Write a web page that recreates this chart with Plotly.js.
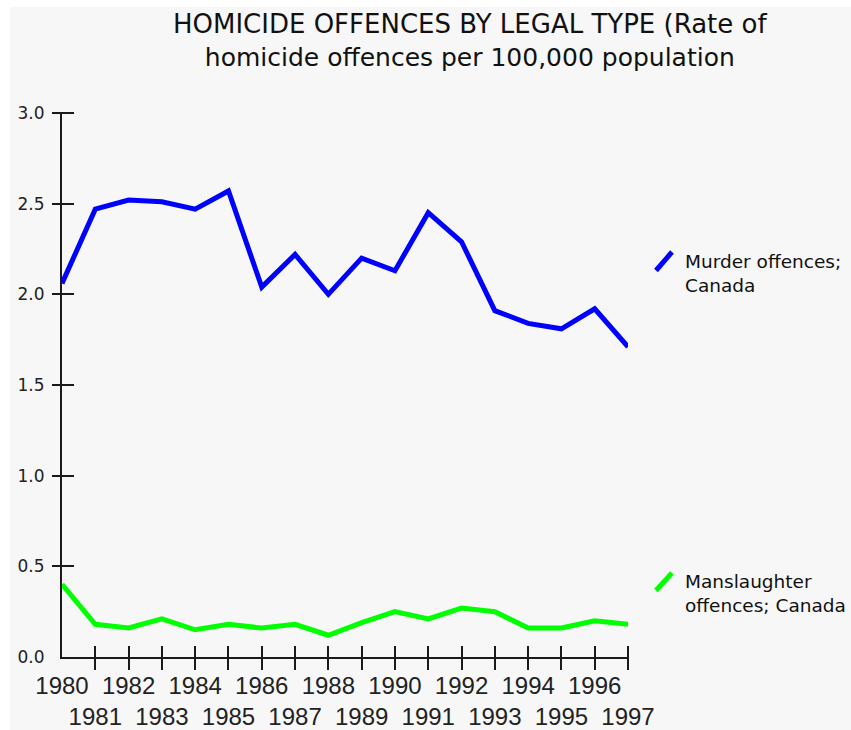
<!DOCTYPE html>
<html>
<head>
<meta charset="utf-8">
<script src="https://cdn.plot.ly/plotly-3.0.1.min.js"></script>
<style>
  html, body { margin: 0; padding: 0; background: #ffffff; }
  #chart { position: absolute; left: 10px; top: 7px; width: 841px; height: 723px; }
</style>
</head>
<body>
<div id="chart"></div>
<script>
// ---- data ----
const years = [1980,1981,1982,1983,1984,1985,1986,1987,1988,1989,1990,1991,1992,1993,1994,1995,1996,1997];
const murder = [2.06,2.47,2.52,2.51,2.47,2.57,2.04,2.22,2.00,2.20,2.13,2.45,2.29,1.91,1.84,1.81,1.92,1.71];
const manslaughter = [0.40,0.18,0.16,0.21,0.15,0.18,0.16,0.18,0.12,0.19,0.25,0.21,0.27,0.25,0.16,0.16,0.20,0.18];
const yTickVals = [0.0,0.5,1.0,1.5,2.0,2.5,3.0];
const yTickText = ['0.0','0.5','1.0','1.5','2.0','2.5','3.0'];
const xTickText = years.map((y, i) => (i % 2 === 0 ? String(y) : '<br>' + y));
const seriesNames = ['Murder offences;<br>Canada', 'Manslaughter<br>offences; Canada'];
const titleLines = ['HOMICIDE OFFENCES BY LEGAL TYPE (Rate of', 'homicide offences per 100,000 population'];

// ---- layout geometry (pixels inside the chart div) ----
const W = 841, H = 723;
const M = {l: 52, r: 223, t: 106, b: 73};
const plotW = W - M.l - M.r, plotH = H - M.t - M.b;
const px = x => (x - M.l) / plotW;
const py = y => (H - M.b - y) / plotH;

const blue = '#0000ff', green = '#00ff00';
const axisCol = '#1a1a1a';

const traces = [
  {x: years, y: murder, type: 'scatter', mode: 'lines', name: 'Murder offences; Canada',
   line: {color: blue, width: 5}, showlegend: false},
  {x: years, y: manslaughter, type: 'scatter', mode: 'lines', name: 'Manslaughter offences; Canada',
   line: {color: green, width: 5}, showlegend: false}
];

const xRange = [years[0], years[years.length - 1]];
const yRange = [0, 3];
const tickYears = years.slice(1);
const tickY = yTickVals.slice(1);

const baseX = {range: xRange, showgrid: false, zeroline: false, fixedrange: true};
const baseY = {range: yRange, showgrid: false, zeroline: false, fixedrange: true};

const layout = {
  width: W, height: H,
  margin: M,
  paper_bgcolor: '#f7f7f7',
  plot_bgcolor: '#f7f7f7',
  showlegend: false,
  xaxis: Object.assign({}, baseX, {
    tickmode: 'array', tickvals: years, ticktext: xTickText, ticks: '', tickangle: 0,
    showline: true, linecolor: axisCol, linewidth: 2,
    tickfont: {family: 'Liberation Sans Narrow, Arial Narrow, sans-serif', size: 24, color: '#222'},
    ticklabelstandoff: 6
  }),
  // crossing tick marks: an overlay axis lifted 12px above the x axis, ticks 24px long downward
  xaxis2: Object.assign({}, baseX, {
    overlaying: 'x', anchor: 'free', position: 12 / plotH, side: 'bottom',
    tickmode: 'array', tickvals: tickYears, ticks: 'outside', ticklen: 24, tickwidth: 2, tickcolor: axisCol,
    showticklabels: false, showline: false
  }),
  yaxis: Object.assign({}, baseY, {
    tickmode: 'array', tickvals: yTickVals, ticktext: yTickText, ticks: '',
    showline: true, linecolor: axisCol, linewidth: 2,
    tickfont: {family: 'DejaVu Sans, sans-serif', size: 17, color: '#222'},
    ticklabelstandoff: 12
  }),
  yaxis2: Object.assign({}, baseY, {
    overlaying: 'y', anchor: 'free', position: 12 / plotW, side: 'left',
    tickmode: 'array', tickvals: tickY, ticks: 'outside', ticklen: 22, tickwidth: 2, tickcolor: axisCol,
    showticklabels: false, showline: false
  }),
  shapes: [
    {type: 'line', xref: 'paper', yref: 'paper', x0: px(646), y0: py(263.5), x1: px(662), y1: py(245),
     line: {color: blue, width: 5}},
    {type: 'line', xref: 'paper', yref: 'paper', x0: px(646), y0: py(583.5), x1: px(662), y1: py(566),
     line: {color: green, width: 5}}
  ],
  annotations: [
    {text: '<span style="font-size:26px">' + titleLines[0] + '</span><br>' + titleLines[1],
     xref: 'paper', yref: 'paper', x: px(460), y: py(0), xanchor: 'center', yanchor: 'top',
     align: 'center', showarrow: false, font: {family: 'DejaVu Sans, sans-serif', size: 25, color: '#111'}},
    {text: seriesNames[0], xref: 'paper', yref: 'paper', x: px(673), y: py(242), xanchor: 'left', yanchor: 'top',
     align: 'left', showarrow: false, font: {family: 'DejaVu Sans, sans-serif', size: 18.5, color: '#111'}},
    {text: seriesNames[1], xref: 'paper', yref: 'paper', x: px(673), y: py(562), xanchor: 'left', yanchor: 'top',
     align: 'left', showarrow: false, font: {family: 'DejaVu Sans, sans-serif', size: 18.5, color: '#111'}}
  ]
};

// invisible helper trace so the overlay axes get drawn
const helpers = [{x: [], y: [], xaxis: 'x2', yaxis: 'y2', type: 'scatter', mode: 'lines', showlegend: false, hoverinfo: 'skip'}];

Plotly.newPlot('chart', traces.concat(helpers), layout, {displayModeBar: false, staticPlot: true});
</script>
</body>
</html>
